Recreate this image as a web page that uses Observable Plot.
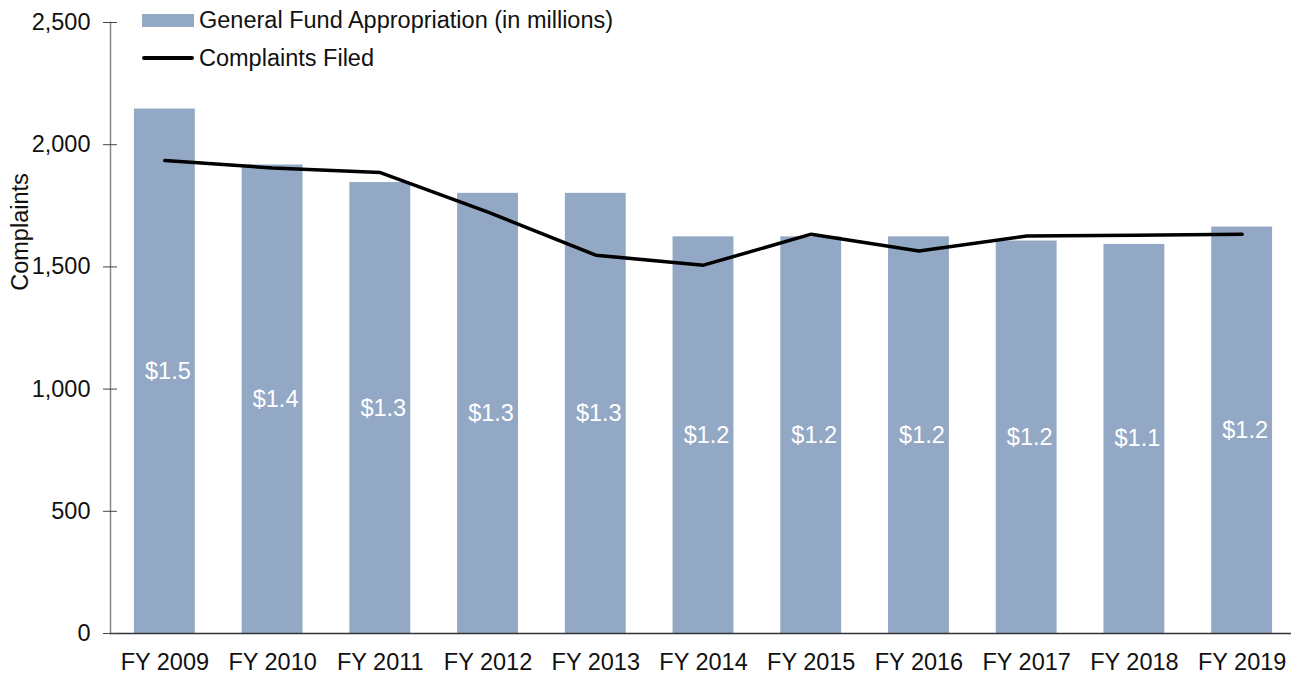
<!DOCTYPE html>
<html>
<head>
<meta charset="utf-8">
<script src="https://cdn.jsdelivr.net/npm/d3@7"></script>
<script src="https://cdn.jsdelivr.net/npm/@observablehq/plot@0.6"></script>
<style>
  html, body { margin: 0; padding: 0; background: #fff; }
  #wrap { position: relative; width: 1291px; height: 675px; font-family: "Liberation Sans", Arial, sans-serif; }
  #wrap svg { overflow: visible; }
  .legend { position: absolute; left: 142px; font-size: 23.5px; line-height: 28px; color: #111; display: flex; align-items: center; white-space: nowrap; }
  .sw-bar { width: 52px; height: 13px; background: #93a8c5; margin-right: 5px; }
  .sw-line { width: 52px; height: 4px; background: #000; border-radius: 2px; margin-right: 5px; }
  .ylab { position: absolute; left: 20px; top: 232px; font-size: 23.5px; color: #111; transform: translate(-50%, -50%) rotate(-90deg); white-space: nowrap; }
</style>
</head>
<body>
<div id="wrap"></div>
<script>
const years = ["FY 2009","FY 2010","FY 2011","FY 2012","FY 2013","FY 2014","FY 2015","FY 2016","FY 2017","FY 2018","FY 2019"];
// bar heights as drawn on the complaints axis
const appropriationBars = [2146, 1917, 1845, 1801, 1801, 1623, 1623, 1623, 1606, 1592, 1663];
const appropriationLabels = ["$1.5","$1.4","$1.3","$1.3","$1.3","$1.2","$1.2","$1.2","$1.2","$1.1","$1.2"];
const complaintsFiled = [1935, 1905, 1886, 1724, 1548, 1507, 1634, 1565, 1626, 1629, 1634];
const yTicks = [0, 500, 1000, 1500, 2000, 2500];
const legendBar = "General Fund Appropriation (in millions)";
const legendLine = "Complaints Filed";
const yLabel = "Complaints";

const rows = years.map((y, i) => ({year: y, bar: appropriationBars[i], label: appropriationLabels[i], complaints: complaintsFiled[i]}));

const font = "\"Liberation Sans\", Arial, sans-serif";
const fs = 23.5;
const chart = Plot.plot({
  width: 1291,
  height: 675,
  marginLeft: 110,
  marginRight: 0,
  marginTop: 22,
  marginBottom: 42,
  style: {fontFamily: font, fontSize: fs + "px", color: "#111", background: "#fff"},
  x: {domain: years, range: [110.5, 1295.5], paddingInner: 0.435, paddingOuter: 0.2175, round: false, label: null},
  y: {domain: [0, 2500], label: null},
  marks: [
    Plot.barY(rows, {x: "year", y: "bar", fill: "#93a8c5"}),
    Plot.text(rows, {x: "year", y: d => d.bar / 2, text: "label", fill: "#fff", fontSize: fs, dx: 3}),
    Plot.lineY(rows, {x: "year", y: "complaints", stroke: "#000", strokeWidth: 3.5, strokeLinecap: "round", strokeLinejoin: "round"}),
    Plot.frame({anchor: "left", stroke: "#888", strokeWidth: 1.5}),
    Plot.ruleY([0], {stroke: "#333", strokeWidth: 1.5}),
    Plot.axisY(yTicks, {tickSize: 14, dx: 7, tickPadding: 13, tickFormat: d3.format(","), fontSize: fs, fill: "#111", stroke: "#444", label: null}),
    Plot.axisX({tickSize: 0, tickPadding: 20, fontSize: fs, fill: "#111", label: null})
  ]
});
const wrap = document.getElementById("wrap");
wrap.appendChild(chart);

const l1 = document.createElement("div");
l1.className = "legend"; l1.style.top = "6px";
l1.innerHTML = `<span class="sw-bar"></span><span>${legendBar}</span>`;
wrap.appendChild(l1);
const l2 = document.createElement("div");
l2.className = "legend"; l2.style.top = "44px";
l2.innerHTML = `<span class="sw-line"></span><span>${legendLine}</span>`;
wrap.appendChild(l2);
const yl = document.createElement("div");
yl.className = "ylab"; yl.textContent = yLabel;
wrap.appendChild(yl);
</script>
</body>
</html>
